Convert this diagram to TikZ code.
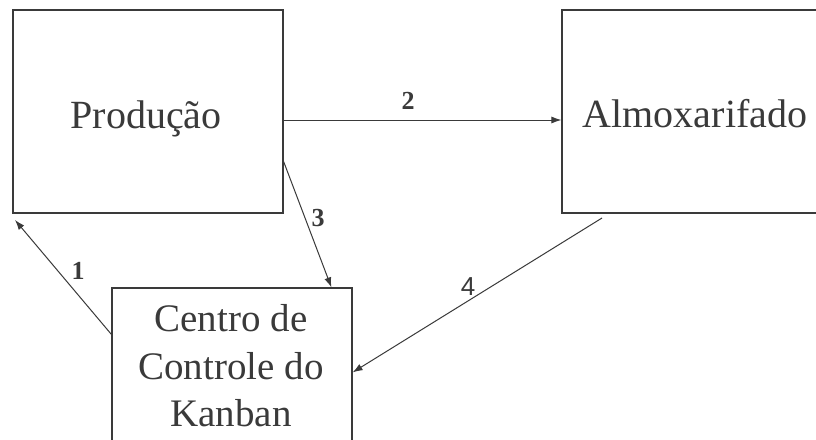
\documentclass[tikz,border=0pt]{standalone}
\usepackage{fontspec}
\setmainfont{Liberation Serif}
\newfontfamily\labsans{Liberation Sans}
\usetikzlibrary{arrows.meta}
\definecolor{ink}{HTML}{3A3A3A}
\begin{document}
\begin{tikzpicture}[x=1pt,y=-1pt,
  box/.style={draw=ink,line width=1.2pt,rectangle,inner sep=0pt},
  txt/.style={text=ink,font=\fontsize{40}{47}\selectfont,inner sep=0pt},
  conn/.style={draw=ink,line width=1pt,-{Latex[length=10pt,width=7pt]}},
  lab/.style={text=ink,font=\fontsize{26}{26}\selectfont\bfseries,inner sep=0pt}]
\useasboundingbox (0,0) rectangle (816,439);
\clip (0,0) rectangle (816,439);
\fill[white] (0,0) rectangle (816,439);
\node[box,minimum width=270pt,minimum height=203pt] (prod) at (148,111.5) {};
\node[txt,anchor=base] (prodt) at (146,128) {Produção};
\node[box,minimum width=256pt,minimum height=203pt] (alm) at (690,111.5) {};
\node[txt,anchor=base] (almt) at (695,127) {Almoxarifado};
\node[box,minimum width=240pt,minimum height=180pt] (kan) at (232,378) {};
\node[txt,font=\fontsize{39}{47.5}\selectfont,align=center] (kant) at (231,366) {Centro de\\Controle do\\Kanban};
\coordinate (c1) at (15,220);
\coordinate (c4) at (602,218);
\draw[conn] ([yshift=-8.5pt]prod.east) -- ([yshift=-8.5pt]alm.west);
\draw[conn] ([yshift=-50pt]prod.east) -- ([xshift=220pt]kan.north west);
\draw[conn] ([yshift=-47pt]kan.north west) -- (c1);
\draw[conn] (c4) -- ([yshift=-85pt]kan.north east);
\node[lab] (l2) at (408,101) {2};
\node[lab] (l3) at (318,218) {3};
\node[lab] (l1) at (78,271) {1};
\node[lab,font=\fontsize{26}{26}\selectfont\labsans] (l4) at (468,287) {4};
\end{tikzpicture}
\end{document}
